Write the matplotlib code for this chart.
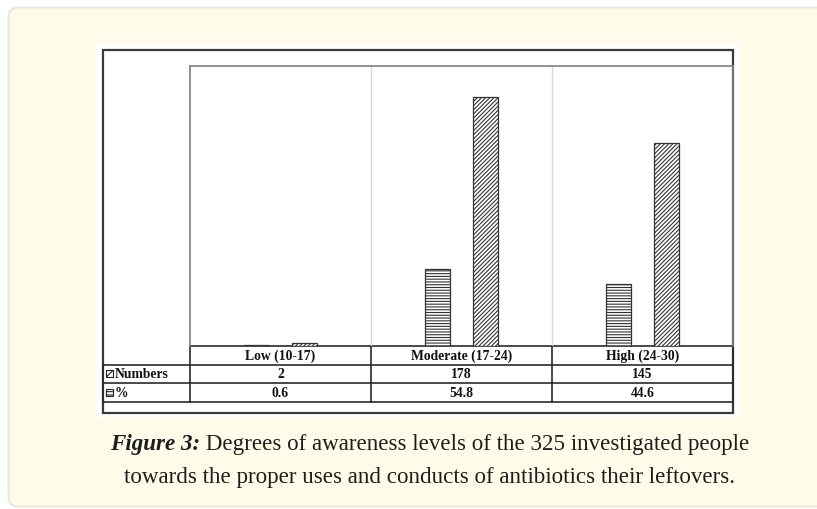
import matplotlib
matplotlib.use("Agg")
import matplotlib.pyplot as plt
from matplotlib.patches import Rectangle, FancyBboxPatch

categories = ["Low (10-17)", "Moderate (17-24)", "High (24-30)"]
numbers = [2, 178, 145]
percent = [0.6, 54.8, 44.6]
series_labels = ["Numbers", "%"]
number_labels = ["2", "178", "145"]
percent_labels = ["0.6", "54.8", "44.6"]
caption_bold = "Figure 3:"
caption_rest1 = " Degrees of awareness levels of the 325 investigated people"
caption_line2 = "towards the proper uses and conducts of antibiotics their leftovers."

W, H = 817, 510
fig = plt.figure(figsize=(W / 100, H / 100), dpi=100)
fig.patch.set_facecolor("white")
plt.rcParams["hatch.linewidth"] = 0.8

# pixel-coordinate background axes
bg = fig.add_axes([0, 0, 1, 1])
bg.set_xlim(0, W)
bg.set_ylim(H, 0)
bg.axis("off")

cream = "#FFFBE9"
bg.add_patch(FancyBboxPatch((8.5, 8.5), 840, 499, boxstyle="round,pad=0,rounding_size=10",
                            facecolor=cream, edgecolor="#E9E6DA", lw=1.5, zorder=0))
bg.add_patch(Rectangle((97, 45), 642, 373, facecolor="white", edgecolor="none", zorder=1))
bg.add_patch(Rectangle((103, 51), 630, 363, facecolor="none", edgecolor="#3a3a3a", lw=1.6, zorder=5))

# table geometry (pixels)
x_left, x_mid, x_right = 103, 190, 733
col_w = (x_right - x_mid) / 3
rows = [347, 365.5, 384, 403]
tcolor = "#2a2a2a"
for y in rows:
    x0 = x_mid if y == rows[0] else x_left
    bg.plot([x0, x_right], [y, y], color=tcolor, lw=1.2, zorder=6)
bg.plot([x_left, x_left], [rows[1], rows[3]], color=tcolor, lw=1.2, zorder=6)
for i in range(4):
    x = x_mid + i * col_w
    bg.plot([x, x], [rows[0], rows[3]], color=tcolor, lw=1.2, zorder=6)

tfont = dict(family="Liberation Serif", fontweight="bold", fontsize=9.8, color="#111111")
for i, cat in enumerate(categories):
    cx = x_mid + (i + 0.5) * col_w
    bg.text(cx, (rows[0] + rows[1]) / 2, cat, ha="center", va="center", zorder=7, **tfont)
    bg.text(cx, (rows[1] + rows[2]) / 2, number_labels[i], ha="center", va="center", zorder=7, **tfont)
    bg.text(cx, (rows[2] + rows[3]) / 2, percent_labels[i], ha="center", va="center", zorder=7, **tfont)

# legend keys
bg.add_patch(Rectangle((106, (rows[1] + rows[2]) / 2 - 3.5), 7, 7, facecolor="white",
                       edgecolor="#222222", hatch="////", lw=0.8, zorder=7))
bg.add_patch(Rectangle((106, (rows[2] + rows[3]) / 2 - 3.5), 7, 7, facecolor="white",
                       edgecolor="#222222", hatch="-----", lw=0.8, zorder=7))
bg.text(115, (rows[1] + rows[2]) / 2, series_labels[0], ha="left", va="center", zorder=7, **tfont)
bg.text(115, (rows[2] + rows[3]) / 2, series_labels[1], ha="left", va="center", zorder=7, **tfont)

# plot axes
top_px, base_px = 67, 347
ax = fig.add_axes([x_mid / W, 1 - base_px / H, (x_right - x_mid) / W, (base_px - top_px) / H])
ax.set_facecolor("none")
ax.set_xlim(0, 3)
ax.set_ylim(0, 200)
ax.set_xticks([])
ax.set_yticks([])
for s in ["left", "top", "right"]:
    ax.spines[s].set_color("#808080")
    ax.spines[s].set_linewidth(1.2)
ax.spines["bottom"].set_visible(False)
for x in [1, 2]:
    ax.axvline(x, color="#d9d9d9", lw=1.0, zorder=0)

xs = [i + 0.5 for i in range(len(categories))]
bw, off = 0.14, 0.133
ax.bar([x - off for x in xs], percent, width=bw, facecolor="white", edgecolor="#333333",
       hatch="------", lw=0.9, zorder=3)
ax.bar([x + off for x in xs], numbers, width=bw, facecolor="white", edgecolor="#333333",
       hatch="////////", lw=0.9, zorder=3)

# caption
cap_font = dict(family="Liberation Serif", fontsize=16.6, color="#1e1e1e")
fig.canvas.draw()
r = fig.canvas.get_renderer()
t1 = bg.text(0, 445, caption_bold, ha="left", va="center", fontweight="bold", fontstyle="italic", **cap_font)
t2 = bg.text(0, 445, caption_rest1, ha="left", va="center", **cap_font)
w1 = t1.get_window_extent(r).width
w2 = t2.get_window_extent(r).width
start = 430 - (w1 + w2) / 2
t1.set_x(start)
t2.set_x(start + w1)
bg.text(430, 478, caption_line2, ha="center", va="center", **cap_font)

fig.savefig("out.png", dpi=100, facecolor=fig.get_facecolor())
